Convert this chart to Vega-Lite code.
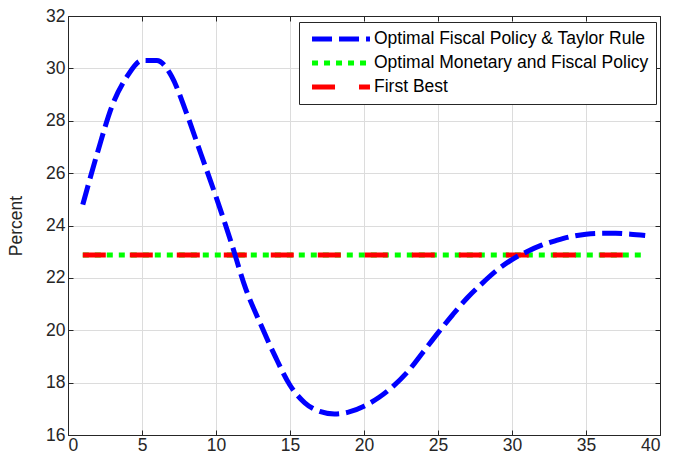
{
  "$schema": "https://vega.github.io/schema/vega-lite/v6.json",
  "width": 592,
  "height": 419,
  "autosize": {"type": "none"},
  "padding": {"left": 68, "top": 16, "right": 14, "bottom": 30},
  "background": "white",
  "config": {
    "font": "Liberation Sans",
    "view": {"stroke": "#262626", "strokeWidth": 1},
    "axis": {
      "labelFont": "Liberation Sans",
      "labelFontSize": 17.5,
      "labelColor": "#262626",
      "titleFont": "Liberation Sans",
      "titleFontSize": 17.5,
      "titleFontWeight": "normal",
      "titleColor": "#262626",
      "domainColor": "#262626",
      "tickColor": "#262626",
      "tickSize": -5,
      "gridColor": "#dcdcdc",
      "gridWidth": 1
    }
  },
  "datasets": {
    "main": [
      {"t": 1, "v": 24.8, "series": "Optimal Fiscal Policy & Taylor Rule"},
      {"t": 2, "v": 26.8, "series": "Optimal Fiscal Policy & Taylor Rule"},
      {"t": 3, "v": 28.6, "series": "Optimal Fiscal Policy & Taylor Rule"},
      {"t": 4, "v": 29.7, "series": "Optimal Fiscal Policy & Taylor Rule"},
      {"t": 5, "v": 30.3, "series": "Optimal Fiscal Policy & Taylor Rule"},
      {"t": 6, "v": 30.3, "series": "Optimal Fiscal Policy & Taylor Rule"},
      {"t": 7, "v": 29.7, "series": "Optimal Fiscal Policy & Taylor Rule"},
      {"t": 8, "v": 28.3, "series": "Optimal Fiscal Policy & Taylor Rule"},
      {"t": 9, "v": 26.7, "series": "Optimal Fiscal Policy & Taylor Rule"},
      {"t": 10, "v": 25.1, "series": "Optimal Fiscal Policy & Taylor Rule"},
      {"t": 11, "v": 23.4, "series": "Optimal Fiscal Policy & Taylor Rule"},
      {"t": 12, "v": 21.6, "series": "Optimal Fiscal Policy & Taylor Rule"},
      {"t": 13, "v": 20.25, "series": "Optimal Fiscal Policy & Taylor Rule"},
      {"t": 14, "v": 19.0, "series": "Optimal Fiscal Policy & Taylor Rule"},
      {"t": 15, "v": 17.9, "series": "Optimal Fiscal Policy & Taylor Rule"},
      {"t": 16, "v": 17.23, "series": "Optimal Fiscal Policy & Taylor Rule"},
      {"t": 17, "v": 16.9, "series": "Optimal Fiscal Policy & Taylor Rule"},
      {"t": 18, "v": 16.8, "series": "Optimal Fiscal Policy & Taylor Rule"},
      {"t": 19, "v": 16.88, "series": "Optimal Fiscal Policy & Taylor Rule"},
      {"t": 20, "v": 17.1, "series": "Optimal Fiscal Policy & Taylor Rule"},
      {"t": 21, "v": 17.43, "series": "Optimal Fiscal Policy & Taylor Rule"},
      {"t": 22, "v": 17.88, "series": "Optimal Fiscal Policy & Taylor Rule"},
      {"t": 23, "v": 18.45, "series": "Optimal Fiscal Policy & Taylor Rule"},
      {"t": 24, "v": 19.17, "series": "Optimal Fiscal Policy & Taylor Rule"},
      {"t": 25, "v": 19.9, "series": "Optimal Fiscal Policy & Taylor Rule"},
      {"t": 26, "v": 20.6, "series": "Optimal Fiscal Policy & Taylor Rule"},
      {"t": 27, "v": 21.25, "series": "Optimal Fiscal Policy & Taylor Rule"},
      {"t": 28, "v": 21.8, "series": "Optimal Fiscal Policy & Taylor Rule"},
      {"t": 29, "v": 22.3, "series": "Optimal Fiscal Policy & Taylor Rule"},
      {"t": 30, "v": 22.7, "series": "Optimal Fiscal Policy & Taylor Rule"},
      {"t": 31, "v": 23.0, "series": "Optimal Fiscal Policy & Taylor Rule"},
      {"t": 32, "v": 23.25, "series": "Optimal Fiscal Policy & Taylor Rule"},
      {"t": 33, "v": 23.43, "series": "Optimal Fiscal Policy & Taylor Rule"},
      {"t": 34, "v": 23.58, "series": "Optimal Fiscal Policy & Taylor Rule"},
      {"t": 35, "v": 23.67, "series": "Optimal Fiscal Policy & Taylor Rule"},
      {"t": 36, "v": 23.7, "series": "Optimal Fiscal Policy & Taylor Rule"},
      {"t": 37, "v": 23.7, "series": "Optimal Fiscal Policy & Taylor Rule"},
      {"t": 38, "v": 23.67, "series": "Optimal Fiscal Policy & Taylor Rule"},
      {"t": 39, "v": 23.62, "series": "Optimal Fiscal Policy & Taylor Rule"},
      {"t": 1, "v": 22.87, "series": "Optimal Monetary and Fiscal Policy"},
      {"t": 39, "v": 22.87, "series": "Optimal Monetary and Fiscal Policy"},
      {"t": 1, "v": 22.87, "series": "First Best"},
      {"t": 39, "v": 22.87, "series": "First Best"}
    ]
  },
  "data": {"name": "main"},
  "encoding": {
    "x": {"field": "t", "type": "quantitative"},
    "y": {"field": "v", "type": "quantitative"},
    "color": {
      "field": "series",
      "type": "nominal",
      "scale": {
        "domain": ["Optimal Fiscal Policy & Taylor Rule", "Optimal Monetary and Fiscal Policy", "First Best"],
        "range": ["#0000ff", "#00ff00", "#ff0000"]
      },
      "legend": {
        "title": null,
        "orient": "none",
        "legendX": 231,
        "legendY": 6,
        "direction": "vertical",
        "fillColor": "white",
        "strokeColor": "#262626",
        "padding": 7,
        "symbolType": "M-4,0H4",
        "symbolSize": 210,
        "symbolOffset": 25,
        "symbolStrokeWidth": 5,
        "labelFont": "Liberation Sans",
        "labelFontSize": 17.5,
        "labelColor": "#000000",
        "labelLimit": 400,
        "labelOffset": 23,
        "rowPadding": 4
      }
    },
    "strokeDash": {
      "field": "series",
      "type": "nominal",
      "scale": {
        "domain": ["Optimal Fiscal Policy & Taylor Rule", "Optimal Monetary and Fiscal Policy", "First Best"],
        "range": [[20, 7], [6, 6], [23, 24]]
      },
      "legend": null
    }
  },
  "layer": [
    {
      "transform": [{"filter": "datum.series === 'Optimal Monetary and Fiscal Policy'"}],
      "mark": {"type": "line", "strokeWidth": 5, "clip": true},
      "encoding": {
        "x": {"field": "t", "type": "quantitative", "scale": {"domain": [0, 40], "nice": false},
          "axis": {"title": null, "values": [0,5,10,15,20,25,30,35,40], "grid": true, "labelPadding": 6, "orient": "bottom"}},
        "y": {"field": "v", "type": "quantitative", "scale": {"domain": [16, 32], "nice": false, "zero": false},
          "axis": {"title": "Percent", "values": [16,18,20,22,24,26,28,30,32], "grid": true, "labelPadding": 8, "titlePadding": 20, "orient": "left"}}
      }
    },
    {
      "transform": [{"filter": "datum.series === 'First Best'"}],
      "mark": {"type": "line", "strokeWidth": 5, "clip": true},
      "encoding": {
        "x": {"field": "t", "type": "quantitative",
          "axis": {"title": null, "values": [0,5,10,15,20,25,30,35,40], "grid": false, "labels": false, "orient": "top"}},
        "y": {"field": "v", "type": "quantitative",
          "axis": {"title": null, "values": [16,18,20,22,24,26,28,30,32], "grid": false, "labels": false, "orient": "right"}}
      }
    },
    {
      "transform": [{"filter": "datum.series === 'Optimal Fiscal Policy & Taylor Rule'"}],
      "mark": {"type": "line", "strokeWidth": 5, "clip": true, "interpolate": "monotone"},
      "encoding": {
        "x": {"field": "t", "type": "quantitative", "axis": null},
        "y": {"field": "v", "type": "quantitative", "axis": null}
      }
    }
  ],
  "resolve": {"axis": {"x": "independent", "y": "independent"}}
}
